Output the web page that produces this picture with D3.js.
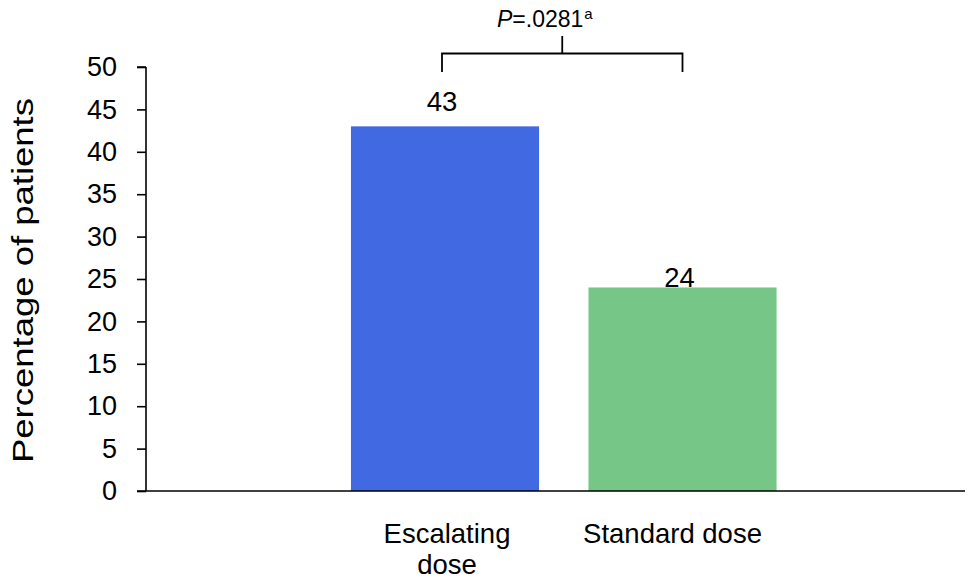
<!DOCTYPE html>
<html>
<head>
<meta charset="utf-8">
<script src="https://cdn.jsdelivr.net/npm/d3@7"></script>
<style>
  html, body { margin: 0; padding: 0; background: #fff; }
  svg { display: block; font-family: Arial, "Liberation Sans", sans-serif; }
</style>
</head>
<body>
<svg id="chart" width="970" height="579"></svg>
<script>
// Response rate by dosing arm
const categories = ["Escalating dose", "Standard dose"];
const categoryLines = [["Escalating", "dose"], ["Standard dose"]];
const values = [43, 24];
const barColors = ["#4169E1", "#75C687"];
const yTicks = [0, 5, 10, 15, 20, 25, 30, 35, 40, 45, 50];
const yTitle = "Percentage of patients";
const pValue = ".0281";

const svg = d3.select("#chart");

const y = d3.scaleLinear().domain([0, 50]).range([491, 67]);
const x = d3.scaleBand()
  .domain(categories)
  .range([326.25, 801.25])
  .paddingInner(0.208)
  .paddingOuter(0.104);

const axisX0 = 146, axisX1 = 965;

// bars
svg.selectAll("rect.bar")
  .data(categories)
  .join("rect")
  .attr("class", "bar")
  .attr("x", d => x(d))
  .attr("width", x.bandwidth())
  .attr("y", (d, i) => y(values[i]))
  .attr("height", (d, i) => y(0) - y(values[i]))
  .attr("fill", (d, i) => barColors[i]);

// y axis
const yAxis = d3.axisLeft(y).tickValues(yTicks).tickSize(9).tickPadding(20);
const gy = svg.append("g").attr("transform", `translate(${axisX0},0)`).call(yAxis);
gy.select(".domain").attr("d", `M0,${y(50)}H-9M0,${y(50)}V${y(0)}`).attr("stroke", "#000").attr("stroke-width", 1.6);
gy.selectAll(".tick line").attr("stroke", "#000").attr("stroke-width", 1.6);
gy.selectAll(".tick text").attr("font-size", 27).attr("fill", "#000")
  .attr("font-family", "Arial, 'Liberation Sans', sans-serif");

// x axis baseline
svg.append("line")
  .attr("x1", axisX0 - 9).attr("x2", axisX1)
  .attr("y1", y(0)).attr("y2", y(0))
  .attr("stroke", "#000").attr("stroke-width", 1.6);

// category labels
const catShift = [2, -10];
svg.selectAll("text.cat")
  .data(categories)
  .join("text")
  .attr("class", "cat")
  .attr("text-anchor", "middle")
  .attr("font-size", 27.5)
  .attr("fill", "#000")
  .attr("transform", (d, i) => `translate(${x(d) + x.bandwidth() / 2 + catShift[i]},543)`)
  .each(function(d, i) {
    d3.select(this).selectAll("tspan")
      .data(categoryLines[i])
      .join("tspan")
      .attr("x", 0)
      .attr("dy", (t, j) => j === 0 ? 0 : 30.5)
      .text(t => t);
  });

// value labels
const labelLift = [15, 0];
svg.selectAll("text.val")
  .data(categories)
  .join("text")
  .attr("class", "val")
  .attr("text-anchor", "middle")
  .attr("font-size", 27.5)
  .attr("fill", "#000")
  .attr("x", (d, i) => x(d) + x.bandwidth() / 2 - 3)
  .attr("y", (d, i) => y(values[i]) - labelLift[i])
  .text((d, i) => values[i]);

// y axis title
svg.append("text")
  .attr("transform", `translate(33,280.5) rotate(-90)`)
  .attr("text-anchor", "middle")
  .attr("font-size", 29)
  .attr("fill", "#000")
  .attr("textLength", 365)
  .attr("lengthAdjust", "spacingAndGlyphs")
  .text(yTitle);

// significance bracket
const cx0 = x(categories[0]) + x.bandwidth() / 2 - 3;
const cx1 = x(categories[1]) + x.bandwidth() / 2;
const cMid = (cx0 + cx1) / 2;
svg.append("path")
  .attr("d", `M${cx0},72V53.5H${cx1}V72M${cMid},53.5V36`)
  .attr("fill", "none")
  .attr("stroke", "#000")
  .attr("stroke-width", 1.8);

const pt = svg.append("text")
  .attr("x", 497).attr("y", 27)
  .attr("font-size", 23)
  .attr("fill", "#000");
pt.append("tspan").attr("font-style", "italic").text("P");
pt.append("tspan").text("=" + pValue);
pt.append("tspan").attr("font-size", 15).attr("dy", -8).attr("dx", 1).text("a");
</script>
</body>
</html>
